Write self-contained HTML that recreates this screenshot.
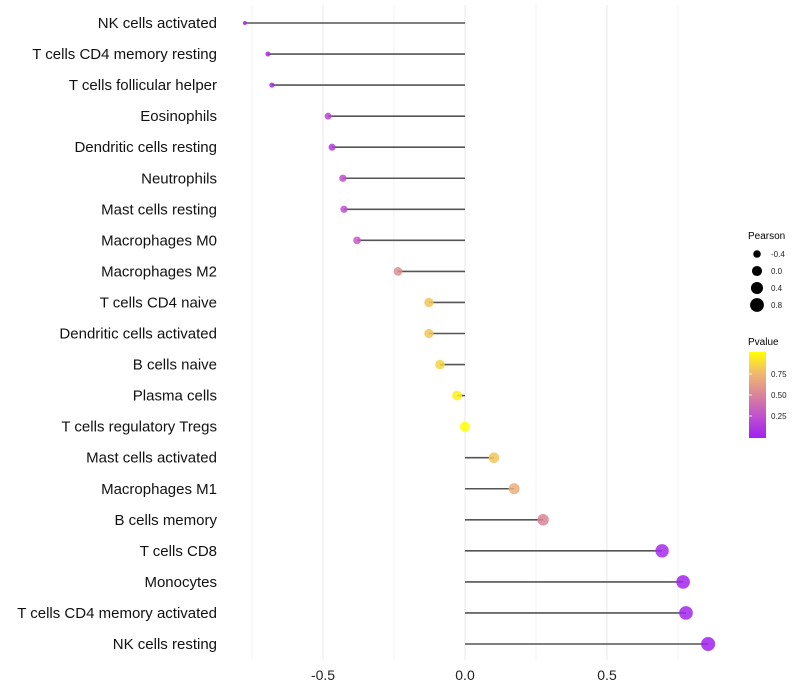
<!DOCTYPE html>
<html><head><meta charset="utf-8"><style>
body{margin:0;background:#fff}
svg{display:block;font-family:"Liberation Sans",Arial,sans-serif}
</style></head><body>
<svg id="chart" width="800" height="700">
<defs><linearGradient id="pg" x1="0" y1="1" x2="0" y2="0">
<stop offset="0" stop-color="#a020f0"/><stop offset="0.25" stop-color="#c050d0"/><stop offset="0.5" stop-color="#d8849a"/><stop offset="0.75" stop-color="#f0b872"/><stop offset="1" stop-color="#ffff00"/>
</linearGradient></defs>
<g id="grid"></g>
<g id="marks"></g>
<g id="labels"></g>
<g id="ticks"></g>
<g>
<text x="748" y="239" font-size="10">Pearson</text>
<g id="sizeLegend"></g>
</g>
<g>
<text x="748" y="345" font-size="10">Pvalue</text>
<rect x="749" y="352" width="17" height="86" fill="url(#pg)"/>
<g id="colorLegend"></g>
</g>
</svg>
<script>
const categories=["NK cells activated","T cells CD4 memory resting","T cells follicular helper","Eosinophils","Dendritic cells resting","Neutrophils","Mast cells resting","Macrophages M0","Macrophages M2","T cells CD4 naive","Dendritic cells activated","B cells naive","Plasma cells","T cells regulatory  Tregs ","Mast cells activated","Macrophages M1","B cells memory","T cells CD8","Monocytes","T cells CD4 memory activated","NK cells resting"];
const pearson=[-0.775,-0.694,-0.68,-0.482,-0.468,-0.43,-0.426,-0.38,-0.236,-0.127,-0.127,-0.088,-0.028,0.0,0.102,0.173,0.275,0.694,0.768,0.778,0.856];
const pvalue=[0.02,0.05,0.05,0.2,0.15,0.25,0.25,0.3,0.55,0.8,0.8,0.85,0.95,1.0,0.8,0.7,0.5,0.05,0.02,0.02,0.01];
const xTicks=[-0.5,0,0.5];
const xTickLabels=["-0.5","0.0","0.5"];
const sizeLegendVals=[-0.4,0.0,0.4,0.8];
const colorLegendVals=[0.25,0.5,0.75];
const colorLegendLabels=["0.25","0.50","0.75"];
const NS="http://www.w3.org/2000/svg";
const x=v=>465+v*284;
const y=i=>23+i*31.05;
const rad=v=>Math.sqrt(Math.max(3,4+27.6*(v+0.775)));
const stops=[[0,[160,32,240]],[0.25,[192,80,208]],[0.5,[216,132,154]],[0.75,[240,184,114]],[1,[255,255,0]]];
function col(p){for(let k=0;k<stops.length-1;k++){const [p0,a]=stops[k],[p1,b]=stops[k+1];if(p<=p1){const t=(p-p0)/(p1-p0);return `rgb(${[0,1,2].map(j=>Math.round(a[j]+(b[j]-a[j])*t)).join(',')})`;}}return 'rgb(255,255,0)';}
function mk(tag,attrs,parent){const e=document.createElementNS(NS,tag);for(const k in attrs)e.setAttribute(k,attrs[k]);parent.appendChild(e);return e;}
const grid=document.getElementById('grid'),marks=document.getElementById('marks'),labels=document.getElementById('labels'),ticks=document.getElementById('ticks');
[-0.75,-0.5,-0.25,0,0.25,0.5,0.75].forEach(v=>{const l=mk('line',{x1:x(v),x2:x(v),y1:5,y2:660,stroke:'#ebebeb','stroke-width':v*4%2==0?1.1:0.6},grid);

});
categories.forEach((c,i)=>{
 const l=mk('line',{x1:x(0),x2:x(pearson[i]),y1:y(i),y2:y(i),stroke:'#555','stroke-width':1.6},marks);
 
 
 const p=mk('circle',{cx:x(pearson[i]),cy:y(i),r:rad(pearson[i]),fill:col(pvalue[i]),'fill-opacity':0.85},marks);
 
 
 const t=mk('text',{x:217,y:y(i)+5,'text-anchor':'end','font-size':15,fill:'#111'},labels);
 t.textContent=c;
 
 
});
xTicks.forEach((v,i)=>{const t=mk('text',{x:x(v),y:680,'text-anchor':'middle','font-size':14,fill:'#222'},ticks);t.textContent=xTickLabels[i];

});
const sl=document.getElementById('sizeLegend');
sizeLegendVals.forEach((v,i)=>{const cy=254+i*17;
const c=mk('circle',{cx:757,cy:cy,r:rad(v),fill:'#000'},sl);


const t=mk('text',{x:771,y:cy+3,'font-size':8,fill:'#222'},sl);t.textContent=v.toFixed(1);

});
const cl=document.getElementById('colorLegend');
colorLegendVals.forEach((v,i)=>{const cy=437-v*84;
const m=mk('line',{x1:749,x2:752,y1:cy,y2:cy,stroke:'#fff','stroke-width':0.8},cl);


const t=mk('text',{x:771,y:cy+3,'font-size':8,fill:'#222'},cl);t.textContent=colorLegendLabels[i];

});
</script>
</body></html>
